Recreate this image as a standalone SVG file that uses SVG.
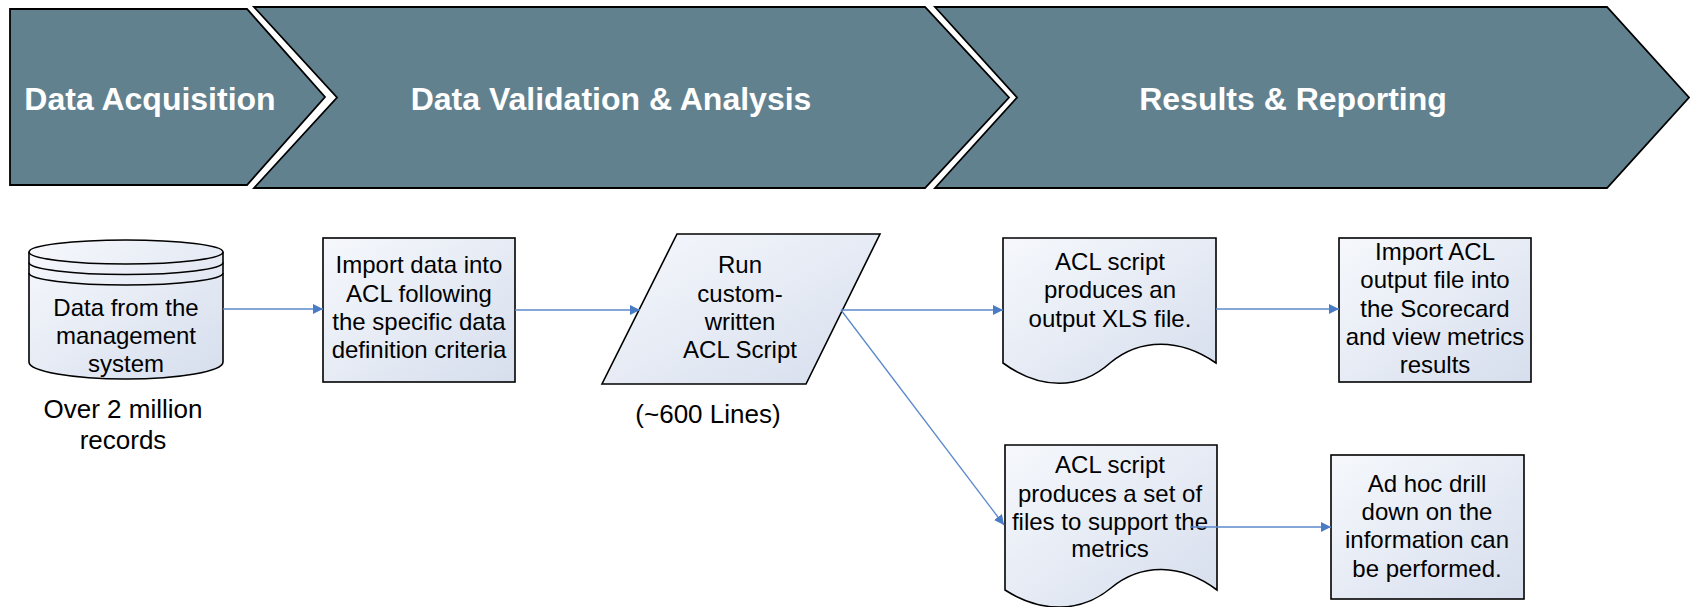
<svg xmlns="http://www.w3.org/2000/svg" width="1692" height="607" viewBox="0 0 1692 607">
<defs>
<linearGradient id="g" x1="0" y1="0" x2="1" y2="1">
<stop offset="0" stop-color="#F6F8FC"/>
<stop offset="1" stop-color="#D6DEED"/>
</linearGradient>
<marker id="ah" viewBox="0 0 10 10" refX="10" refY="5" markerWidth="10" markerHeight="10" markerUnits="userSpaceOnUse" orient="auto">
<path d="M0,0 L10,5 L0,10 z" fill="#4A7CC6"/>
</marker>
<style>
.chev{fill:#62818F;stroke:#000;stroke-width:1.8;stroke-linejoin:miter}
.ct{font-family:"Liberation Sans",Arial,sans-serif;font-weight:bold;font-size:32px;fill:#fff;text-anchor:middle}
.shape{fill:url(#g);stroke:#000;stroke-width:1.6}
.t{font-family:"Liberation Sans",Arial,sans-serif;font-size:24px;fill:#000;text-anchor:middle}
.cap{font-family:"Liberation Sans",Arial,sans-serif;font-size:26px;fill:#000;text-anchor:middle}
.conn{fill:none;stroke:#5B88CC;stroke-width:1.3}
</style>
</defs>
<g id="phase-acquisition">
<polygon class="chev" points="10,9 247,9 325,97 247,185 10,185"/>
<text class="ct" x="150" y="110">Data Acquisition</text>
</g>
<g id="phase-validation">
<polygon class="chev" points="254,7 925,7 1009,97.5 925,188 254,188 337,97.5"/>
<text class="ct" x="611" y="110">Data Validation &amp; Analysis</text>
</g>
<g id="phase-results">
<polygon class="chev" points="935,7 1607,7 1689,97.5 1607,188 935,188 1017,97.5"/>
<text class="ct" x="1293" y="110">Results &amp; Reporting</text>
</g>
<g id="node-data">
<path class="shape" d="M29,252 A97,12 0 0 1 223,252 L223,362 A97,17 0 0 1 29,362 Z"/>
<path fill="none" stroke="#000" stroke-width="1.6" d="M29,252 A97,12 0 0 0 223,252 M29,262.5 A97,12 0 0 0 223,262.5 M29,273 A97,12 0 0 0 223,273"/>
<text class="t" x="126" y="316">Data from the</text>
<text class="t" x="126" y="344">management</text>
<text class="t" x="126" y="372">system</text>
<text class="cap" x="123" y="418">Over 2 million</text>
<text class="cap" x="123" y="449">records</text>
</g>
<g id="node-import">
<rect class="shape" x="323" y="238" width="192" height="144"/>
<text class="t" x="419" y="273">Import data into</text>
<text class="t" x="419" y="302">ACL following</text>
<text class="t" x="419" y="330">the specific data</text>
<text class="t" x="419" y="358">definition criteria</text>
</g>
<g id="node-script">
<polygon class="shape" points="677,234 880,234 806,384 602,384"/>
<text class="t" x="740" y="273">Run</text>
<text class="t" x="740" y="302">custom-</text>
<text class="t" x="740" y="330">written</text>
<text class="t" x="740" y="358">ACL Script</text>
<text class="cap" x="708" y="423">(~600 Lines)</text>
</g>
<g id="node-xls">
<path class="shape" d="M1003,238 L1216,238 L1216,363 C1180,338 1140,338 1110,363 C1080,390 1040,390 1003,363 Z"/>
<text class="t" x="1110" y="270">ACL script</text>
<text class="t" x="1110" y="298">produces an</text>
<text class="t" x="1110" y="327">output XLS file.</text>
</g>
<g id="node-files">
<path class="shape" d="M1005,445 L1217,445 L1217,590 C1181,563 1141,563 1111,588 C1081,613 1041,613 1005,590 Z"/>
<text class="t" x="1110" y="473">ACL script</text>
<text class="t" x="1110" y="502">produces a set of</text>
<text class="t" x="1110" y="530">files to support the</text>
<text class="t" x="1110" y="557">metrics</text>
</g>
<g id="node-scorecard">
<rect class="shape" x="1339" y="238" width="192" height="144"/>
<text class="t" x="1435" y="260">Import ACL</text>
<text class="t" x="1435" y="288">output file into</text>
<text class="t" x="1435" y="317">the Scorecard</text>
<text class="t" x="1435" y="345">and view metrics</text>
<text class="t" x="1435" y="373">results</text>
</g>
<g id="node-adhoc">
<rect class="shape" x="1331" y="455" width="193" height="144"/>
<text class="t" x="1427" y="492">Ad hoc drill</text>
<text class="t" x="1427" y="520">down on the</text>
<text class="t" x="1427" y="548">information can</text>
<text class="t" x="1427" y="577">be performed.</text>
</g>
<g id="connectors">
<line class="conn" x1="223" y1="309" x2="323" y2="309" marker-end="url(#ah)"/>
<line class="conn" x1="515" y1="310" x2="640" y2="310" marker-end="url(#ah)"/>
<line class="conn" x1="841" y1="310" x2="1003" y2="310" marker-end="url(#ah)"/>
<line class="conn" x1="841" y1="310" x2="1004" y2="525" marker-end="url(#ah)"/>
<line class="conn" x1="1216" y1="309" x2="1339" y2="309" marker-end="url(#ah)"/>
<line class="conn" x1="1190" y1="527" x2="1331" y2="527" marker-end="url(#ah)"/>
</g>
</svg>
